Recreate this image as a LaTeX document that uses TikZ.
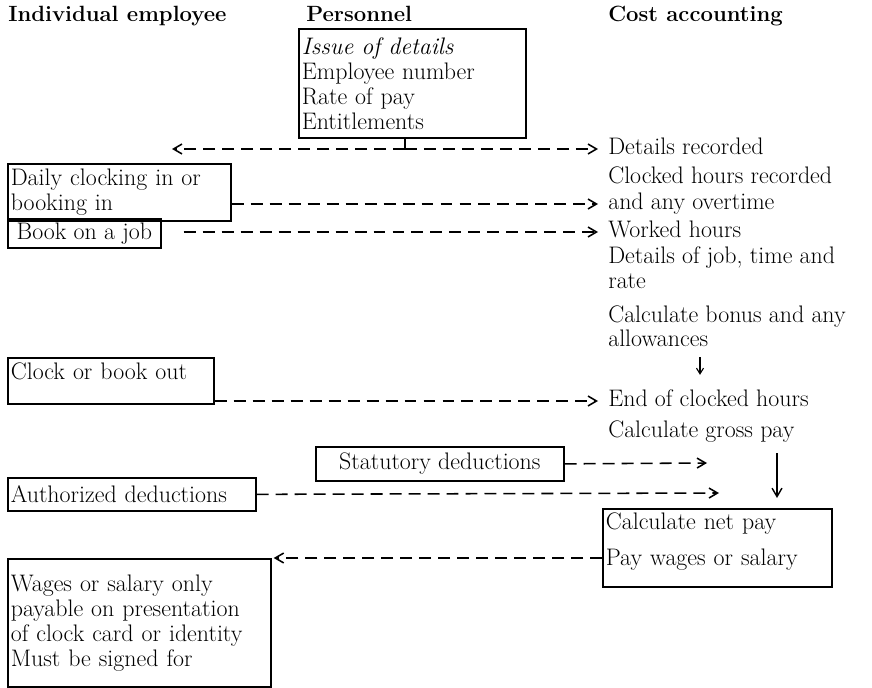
\documentclass[tikz,border=0pt]{standalone}
\usetikzlibrary{positioning, arrows.meta, calc}
\newlength\pxu
\setlength\pxu{0.025cm}

\begin{document}
\begin{tikzpicture}[
  x=0.025cm, y=-0.025cm,
  font=\fontsize{17}{17.8}\selectfont,
  heading/.style = {anchor=base west, inner sep=0pt, font=\fontsize{15.7}{17}\selectfont\bfseries},
  box/.style = {draw, line width=1.2pt, anchor=north west, align=left, inner xsep=3\pxu, inner ysep=3\pxu},
  costline/.style = {anchor=west, inner xsep=10\pxu, inner ysep=0pt, text height=12pt, text depth=3.5pt},
  flow/.style = {draw, line width=1.1pt, dash pattern=on 8.5pt off 5pt, -{Straight Barb[length=6pt, width=7pt]}},
  link/.style = {draw, line width=1pt, -{Straight Barb[length=6pt, width=7pt]}}
]
  \useasboundingbox (0,0) rectangle (872,688);

  % Column headings
  \node[heading] (emp_head) at (8,22) {Individual employee};
  \node[heading] (pers_head) at (306,22) {Personnel};
  \node[heading] (cost_head) at (608,22) {Cost accounting};

  % Boxed steps
  \node[box, minimum width=227\pxu, minimum height=109\pxu, text width=221\pxu] (personnel) at (298,28)
    {\textit{Issue of details}\\Employee number\\Rate of pay\\Entitlements};
  \node[box, minimum width=223\pxu, minimum height=57\pxu, text width=217\pxu] (daily) at (7,163)
    {Daily clocking in or\\booking in};
  \node[box, minimum width=153\pxu, minimum height=29\pxu] (bookjob) at (7,218) {Book on a job};
  \node[box, minimum width=206\pxu, text width=200\pxu, text height=19\pxu, text depth=21\pxu] (clockout) at (7,357)
    {Clock or book out};
  \node[box, minimum width=248\pxu, minimum height=34\pxu] (statutory) at (315,446) {Statutory deductions};
  \node[box, minimum width=248\pxu, minimum height=33\pxu, text width=242\pxu] (authorized) at (7,477)
    {Authorized deductions};
  \node[box, minimum width=229\pxu, text width=223\pxu, text height=18\pxu, text depth=54\pxu] (netpay) at (602,508)
    {Calculate net pay\\[11\pxu]Pay wages or salary};
  \node[box, minimum width=263\pxu, minimum height=128\pxu, text width=257\pxu] (wages) at (7,558)
    {Wages or salary only\\payable on presentation\\of clock card or identity\\Must be signed for};

  % Cost accounting column
  \node[costline] (recorded) at (598,149) {Details recorded};
  \node[costline] (clocked) at (598,178) {Clocked hours recorded};
  \node[costline] (overtime) at (598,204) {and any overtime};
  \node[costline] (worked) at (598,232) {Worked hours};
  \node[costline] (jobdetails) at (598,258) {Details of job, time and};
  \node[costline] (rate) at (598,283) {rate};
  \node[costline] (bonus) at (598,317) {Calculate bonus and any};
  \node[costline] (allowances) at (598,341) {allowances};
  \node[costline] (endhours) at (598,401) {End of clocked hours};
  \node[costline] (grosspay) at (598,432) {Calculate gross pay};

  % Free ends of the connectors
  \coordinate (split) at (405,149);
  \coordinate (handout) at (172,149);
  \coordinate (statin) at (707,463);
  \coordinate (authin) at (719,493);
  \coordinate (bonusx) at (700,0);
  \coordinate (grossx) at (777,0);

  % Connectors
  \draw[line width=0.8pt] (split |- personnel.south) -- (split);
  \draw[flow] (split) -- (handout);
  \draw[flow] (split) -- (recorded.west);
  \draw[flow] (daily.east |- overtime.west) -- (overtime.west);
  \draw[flow, shorten <=22\pxu] (bookjob.east |- worked.west) -- (worked.west);
  \draw[flow] (clockout.south east |- endhours.west) -- (endhours.west);
  \draw[link, line width=0.8pt, -{Straight Barb[length=4pt, width=5pt]}, shorten <=5\pxu, shorten >=15\pxu]
    (allowances.south -| bonusx) -- (endhours.north -| bonusx);
  \draw[flow] (statutory.east) -- (statin);
  \draw[flow] (authorized.east) -- (authin);
  \draw[link, shorten <=10\pxu, shorten >=10\pxu] (grosspay.south -| grossx) -- (netpay.north -| grossx);
  \draw[flow, shorten >=2\pxu] (netpay.west |- wages.north east) -- (wages.north east);
\end{tikzpicture}
\end{document}
